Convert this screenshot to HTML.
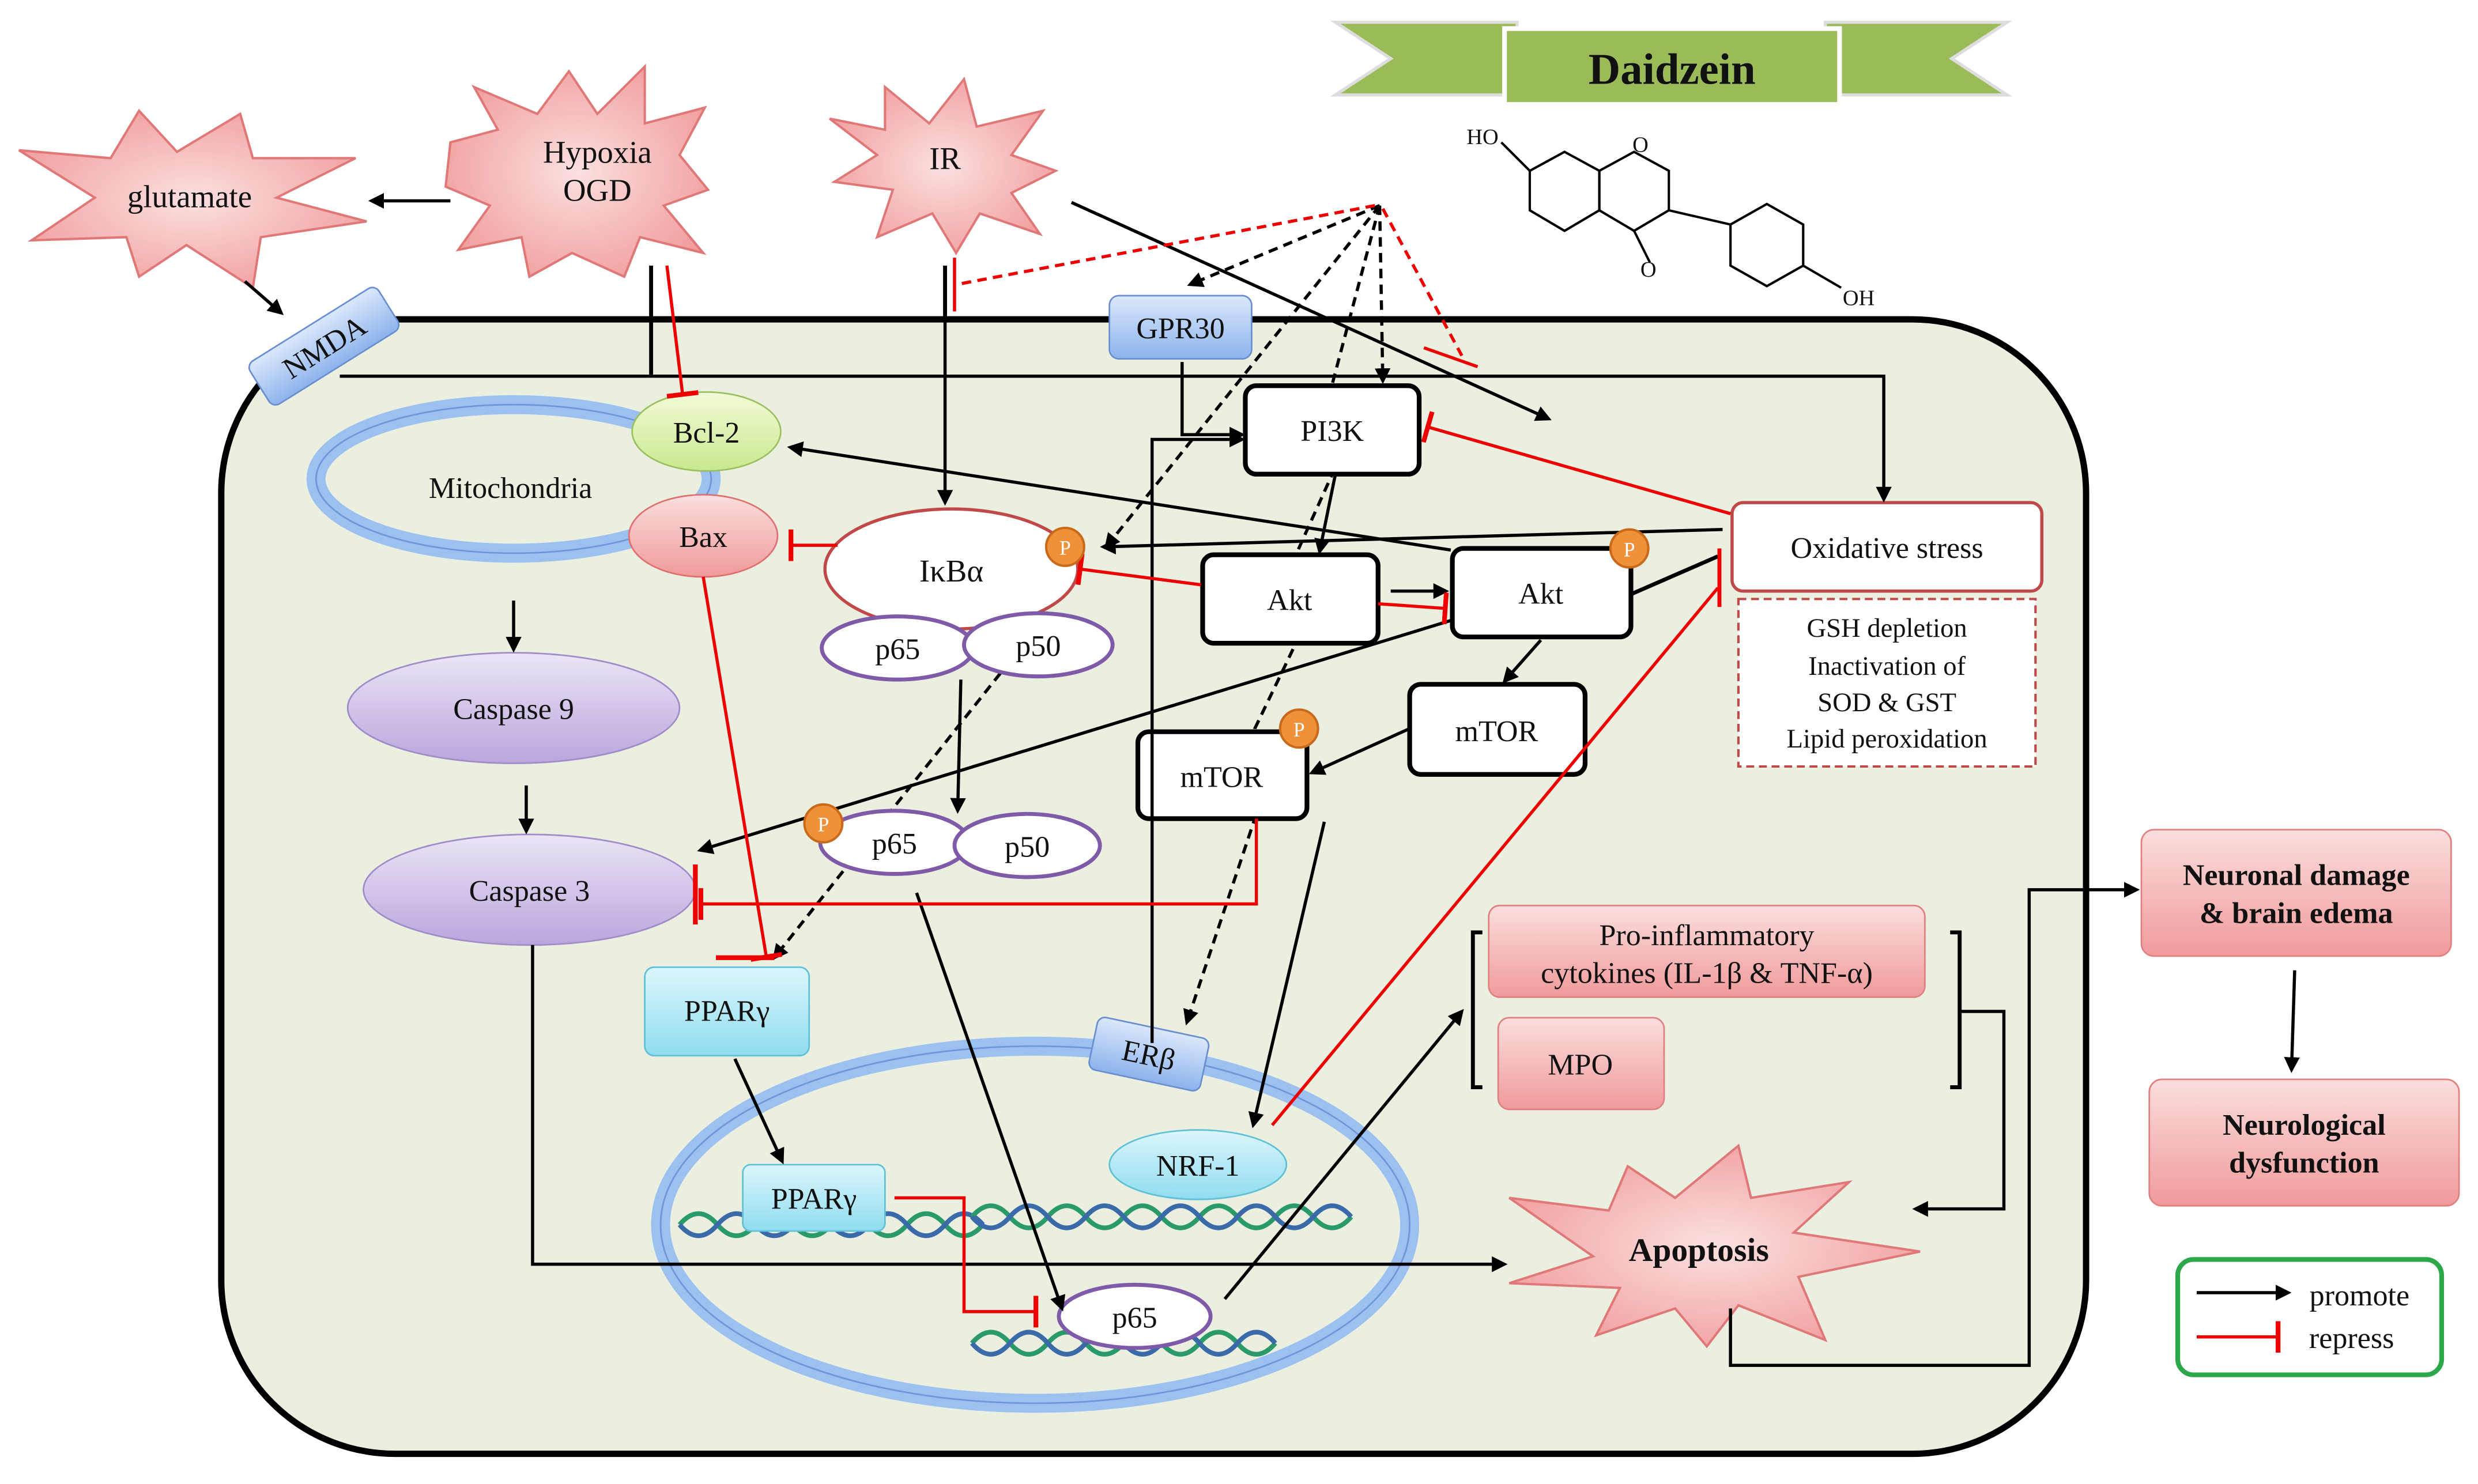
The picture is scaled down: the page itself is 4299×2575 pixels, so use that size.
<!DOCTYPE html>
<html><head><meta charset="utf-8"><style>
html,body{margin:0;padding:0;background:#fff}
svg{display:block}
text{font-family:"Liberation Serif",serif;fill:#111}
</style></head><body>
<svg width="4299" height="2575" viewBox="0 0 1568 939" xmlns="http://www.w3.org/2000/svg">
<defs>
<marker id="ab" markerWidth="10" markerHeight="10" refX="8" refY="5" orient="auto" markerUnits="userSpaceOnUse"><path d="M0,0 L10,5 L0,10 z" fill="#000"/></marker>
<marker id="tr" markerWidth="4" markerHeight="20" refX="2" refY="10" orient="auto" markerUnits="userSpaceOnUse"><rect x="0" y="0" width="3" height="20" fill="#e00"/></marker>
<radialGradient id="star" cx="50%" cy="50%" r="60%"><stop offset="0" stop-color="#fbe0e0"/><stop offset="1" stop-color="#f19a9a"/></radialGradient>
<linearGradient id="pink" x1="0" y1="0" x2="0" y2="1"><stop offset="0" stop-color="#fbdede"/><stop offset="1" stop-color="#f09a9a"/></linearGradient>
<linearGradient id="purp" x1="0" y1="0" x2="0" y2="1"><stop offset="0" stop-color="#ece4f6"/><stop offset="1" stop-color="#b9a6dc"/></linearGradient>
<linearGradient id="cyan" x1="0" y1="0" x2="0" y2="1"><stop offset="0" stop-color="#dcf6fc"/><stop offset="1" stop-color="#8fdcef"/></linearGradient>
<linearGradient id="blu" x1="0" y1="0" x2="0" y2="1"><stop offset="0" stop-color="#dbe8fb"/><stop offset="1" stop-color="#8cb3ec"/></linearGradient>
<linearGradient id="grn" x1="0" y1="0" x2="0" y2="1"><stop offset="0" stop-color="#f2fbd8"/><stop offset="1" stop-color="#c9e88e"/></linearGradient>
</defs>

<rect x="140" y="202" width="1180" height="718" rx="110" fill="#ebefe0" stroke="#000" stroke-width="4"/>

<polygon points="845,14 960,14 960,60 845,60 880,37" fill="#9bbb59" stroke="#ddd" stroke-width="2"/>
<polygon points="1155,14 1270,14 1235,37 1270,60 1155,60" fill="#9bbb59" stroke="#ddd" stroke-width="2"/>
<rect x="952" y="18" width="212" height="48" fill="#9bbb59" stroke="#fff" stroke-width="3"/>
<text x="1058" y="53" font-size="28" font-weight="bold" text-anchor="middle">Daidzein</text>
<g stroke="#000" stroke-width="1.5" fill="none">
<polygon points="968,108 990,96 1012,108 1012,133 990,146 968,133"/>
<polygon points="1012,108 1034,96 1056,108 1056,133 1034,146 1012,133"/>
<polygon points="1095,142 1118,129 1141,142 1141,168 1118,181 1095,168"/>
<line x1="1056" y1="133" x2="1095" y2="142"/><line x1="1034" y1="146" x2="1044" y2="166"/>
<line x1="968" y1="108" x2="950" y2="90"/><line x1="1141" y1="168" x2="1165" y2="182"/>
</g>
<text x="928" y="91" font-size="14">HO</text><text x="1033" y="96" font-size="14">O</text>
<text x="1038" y="175" font-size="14">O</text><text x="1166" y="193" font-size="14">OH</text>

<g fill="url(#star)" stroke="#e07878" stroke-width="1.5">
<polygon points="12,95 70,100 88,70 112,96 152,72 160,100 225,100 175,125 232,140 165,150 160,182 118,155 88,175 80,150 20,152 60,125"/>
<polygon points="285,90 315,82 300,55 340,72 360,45 378,72 408,42 408,78 446,68 430,98 448,120 420,130 445,160 405,150 395,175 362,160 335,175 330,150 290,158 310,130 282,118"/>
<polygon points="525,75 560,82 560,55 588,78 610,50 618,80 660,70 640,98 668,108 640,122 658,148 620,135 605,160 590,135 555,150 565,120 528,115 555,98"/>
<polygon points="955,758 1018,766 1030,738 1060,758 1100,725 1108,758 1170,748 1135,780 1215,792 1138,808 1155,848 1100,826 1080,852 1060,828 1010,845 1025,815 955,812 1008,795"/>
</g>
<text x="120" y="131" font-size="20" text-anchor="middle">glutamate</text>
<text x="378" y="103" font-size="20" text-anchor="middle">Hypoxia</text>
<text x="378" y="127" font-size="20" text-anchor="middle">OGD</text>
<text x="598" y="107" font-size="20" text-anchor="middle">IR</text>
<text x="1075" y="798" font-size="21" font-weight="bold" text-anchor="middle">Apoptosis</text>

<g transform="translate(205,219) rotate(-32)"><rect x="-48" y="-16" width="96" height="32" rx="5" fill="url(#blu)" stroke="#6a8fd0"/><text x="0" y="7" font-size="19" text-anchor="middle">NMDA</text></g>

<!-- dashed black (drawn under boxes) -->
<g stroke="#000" stroke-width="2" stroke-dasharray="6,4" fill="none" marker-end="url(#ab)">
<line x1="873" y1="130" x2="753" y2="180"/>
<line x1="873" y1="130" x2="875" y2="241"/>
<line x1="873" y1="130" x2="700" y2="346"/>
<line x1="633" y1="426" x2="490" y2="606"/>
<polyline points="873,130 843,243 843,300 820,351 820,407 794,461 794,518 751,647"/>
</g>

<ellipse cx="325" cy="303" rx="125" ry="47" fill="none" stroke="#9cc0ef" stroke-width="12"/>
<ellipse cx="325" cy="303" rx="125" ry="47" fill="none" stroke="#6d97d8" stroke-width="1"/>
<text x="323" y="315" font-size="19" text-anchor="middle">Mitochondria</text>
<ellipse cx="447" cy="273" rx="47" ry="25" fill="url(#grn)" stroke="#9ac060"/><text x="447" y="280" font-size="19" text-anchor="middle">Bcl-2</text>
<ellipse cx="445" cy="339" rx="47" ry="26" fill="url(#pink)" stroke="#e07070"/><text x="445" y="346" font-size="19" text-anchor="middle">Bax</text>
<ellipse cx="325" cy="448" rx="105" ry="35" fill="url(#purp)" stroke="#a08cc8"/><text x="325" y="455" font-size="19" text-anchor="middle">Caspase 9</text>
<ellipse cx="335" cy="563" rx="105" ry="35" fill="url(#purp)" stroke="#a08cc8"/><text x="335" y="570" font-size="19" text-anchor="middle">Caspase 3</text>

<ellipse cx="602" cy="360" rx="80" ry="38" fill="#fff" stroke="#c04848" stroke-width="2"/><text x="602" y="368" font-size="20" text-anchor="middle">IκBα</text>
<ellipse cx="568" cy="410" rx="48" ry="20" fill="#fff" stroke="#7e5aa8" stroke-width="2.5"/><text x="568" y="417" font-size="19" text-anchor="middle">p65</text>
<ellipse cx="657" cy="408" rx="47" ry="20" fill="#fff" stroke="#7e5aa8" stroke-width="2.5"/><text x="657" y="415" font-size="19" text-anchor="middle">p50</text>
<ellipse cx="566" cy="533" rx="47" ry="20" fill="#fff" stroke="#7e5aa8" stroke-width="2.5"/><text x="566" y="540" font-size="19" text-anchor="middle">p65</text>
<ellipse cx="650" cy="535" rx="46" ry="20" fill="#fff" stroke="#7e5aa8" stroke-width="2.5"/><text x="650" y="542" font-size="19" text-anchor="middle">p50</text>

<rect x="408" y="612" width="104" height="56" rx="6" fill="url(#cyan)" stroke="#60c0d8"/><text x="460" y="646" font-size="19" text-anchor="middle">PPARγ</text>

<ellipse cx="655" cy="775" rx="237" ry="113" fill="none" stroke="#9cc0ef" stroke-width="12"/>
<ellipse cx="655" cy="775" rx="237" ry="113" fill="none" stroke="#6d97d8" stroke-width="1"/>
<g transform="translate(727,667) rotate(12)"><rect x="-36" y="-17" width="72" height="34" rx="5" fill="url(#blu)" stroke="#6a8fd0"/><text x="0" y="7" font-size="19" text-anchor="middle">ERβ</text></g>
<g fill="none" stroke-width="3">
<path d="M430,775 q12,-14 24,0 t24,0 t24,0 t24,0 t24,0 t24,0 t24,0 t24,0" stroke="#2a9a6a"/>
<path d="M430,775 q12,14 24,0 t24,0 t24,0 t24,0 t24,0 t24,0 t24,0 t24,0" stroke="#3a6aa8"/>
<path d="M615,770 q12,-14 24,0 t24,0 t24,0 t24,0 t24,0 t24,0 t24,0 t24,0 t24,0 t24,0" stroke="#2a9a6a"/>
<path d="M615,770 q12,14 24,0 t24,0 t24,0 t24,0 t24,0 t24,0 t24,0 t24,0 t24,0 t24,0" stroke="#3a6aa8"/>
<path d="M615,850 q12,-14 24,0 t24,0 t24,0 t24,0 t24,0 t24,0 t24,0 t24,0" stroke="#2a9a6a"/>
<path d="M615,850 q12,14 24,0 t24,0 t24,0 t24,0 t24,0 t24,0 t24,0 t24,0" stroke="#3a6aa8"/>
</g>
<rect x="470" y="737" width="90" height="42" rx="5" fill="url(#cyan)" stroke="#60c0d8"/><text x="515" y="765" font-size="19" text-anchor="middle">PPARγ</text>
<ellipse cx="758" cy="737" rx="56" ry="22" fill="url(#cyan)" stroke="#60c0d8"/><text x="758" y="744" font-size="19" text-anchor="middle">NRF-1</text>
<ellipse cx="718" cy="833" rx="48" ry="20" fill="#fff" stroke="#7e5aa8" stroke-width="2.5"/><text x="718" y="840" font-size="19" text-anchor="middle">p65</text>

<rect x="702" y="187" width="90" height="40" rx="6" fill="url(#blu)" stroke="#6a8fd0"/><text x="747" y="214" font-size="19" text-anchor="middle">GPR30</text>
<g fill="#fff" stroke="#000" stroke-width="3">
<rect x="788" y="244" width="110" height="56" rx="7"/>
<rect x="761" y="351" width="111" height="56" rx="7"/>
<rect x="919" y="347" width="113" height="56" rx="7"/>
<rect x="892" y="433" width="111" height="57" rx="7"/>
<rect x="720" y="463" width="107" height="55" rx="7"/>
</g>
<text x="843" y="279" font-size="19" text-anchor="middle">PI3K</text>
<text x="816" y="386" font-size="19" text-anchor="middle">Akt</text>
<text x="975" y="382" font-size="19" text-anchor="middle">Akt</text>
<text x="947" y="469" font-size="19" text-anchor="middle">mTOR</text>
<text x="773" y="498" font-size="19" text-anchor="middle">mTOR</text>

<rect x="1096" y="318" width="196" height="56" rx="7" fill="#fff" stroke="#c04848" stroke-width="2"/><text x="1194" y="353" font-size="19" text-anchor="middle">Oxidative stress</text>
<rect x="1100" y="379" width="188" height="106" fill="#fff" stroke="#c04848" stroke-width="1.5" stroke-dasharray="5,3"/>
<g font-size="17" text-anchor="middle"><text x="1194" y="403">GSH depletion</text><text x="1194" y="427">Inactivation of</text><text x="1194" y="450">SOD &amp; GST</text><text x="1194" y="473">Lipid peroxidation</text></g>

<rect x="942" y="573" width="276" height="58" rx="7" fill="url(#pink)" stroke="#e08080"/>
<text x="1080" y="598" font-size="19" text-anchor="middle">Pro-inflammatory</text><text x="1080" y="622" font-size="19" text-anchor="middle">cytokines (IL-1β &amp; TNF-α)</text>
<rect x="948" y="644" width="105" height="58" rx="7" fill="url(#pink)" stroke="#e08080"/><text x="1000" y="680" font-size="19" text-anchor="middle">MPO</text>
<path d="M938,590 h-6 v98 h6 M1234,590 h6 v98 h-6" fill="none" stroke="#000" stroke-width="2.5"/>

<rect x="1355" y="525" width="196" height="80" rx="8" fill="url(#pink)" stroke="#e08080"/>
<text x="1453" y="560" font-size="19" font-weight="bold" text-anchor="middle">Neuronal damage</text><text x="1453" y="584" font-size="19" font-weight="bold" text-anchor="middle">&amp; brain edema</text>
<rect x="1360" y="683" width="196" height="80" rx="8" fill="url(#pink)" stroke="#e08080"/>
<text x="1458" y="718" font-size="19" font-weight="bold" text-anchor="middle">Neurological</text><text x="1458" y="742" font-size="19" font-weight="bold" text-anchor="middle">dysfunction</text>
<rect x="1378" y="797" width="167" height="73" rx="10" fill="#fff" stroke="#2aa84a" stroke-width="3"/>
<line x1="1390" y1="818" x2="1448" y2="818" stroke="#000" stroke-width="2" marker-end="url(#ab)"/>
<line x1="1390" y1="846" x2="1442" y2="846" stroke="#e00" stroke-width="2" marker-end="url(#tr)"/>
<text x="1493" y="826" font-size="19" text-anchor="middle">promote</text><text x="1488" y="853" font-size="19" text-anchor="middle">repress</text>

<g stroke="#000" stroke-width="2" fill="none" marker-end="url(#ab)">
<line x1="285" y1="127" x2="235" y2="127"/>
<line x1="155" y1="178" x2="178" y2="198"/>
<polyline points="215,238 1192,238 1192,316"/>
<line x1="678" y1="128" x2="980" y2="265"/>
<line x1="598" y1="200" x2="598" y2="318"/>
<polyline points="748,229 748,275 786,275"/>
<polyline points="729,660 729,278 786,278"/>
<line x1="918" y1="348" x2="500" y2="283"/>
<line x1="1090" y1="335" x2="698" y2="346"/>
<line x1="880" y1="374" x2="915" y2="374"/>
<line x1="845" y1="300" x2="835" y2="349"/>
<line x1="975" y1="405" x2="952" y2="431"/>
<line x1="892" y1="461" x2="830" y2="489"/>
<line x1="920" y1="392" x2="443" y2="538"/>
<line x1="838" y1="520" x2="793" y2="712"/>
<line x1="608" y1="430" x2="606" y2="513"/>
<line x1="325" y1="380" x2="325" y2="411"/>
<line x1="333" y1="497" x2="333" y2="526"/>
<polyline points="337,598 337,800 952,800"/>
<line x1="465" y1="670" x2="495" y2="735"/>
<line x1="580" y1="565" x2="672" y2="828"/>
<line x1="775" y1="822" x2="925" y2="640"/>
<polyline points="1240,640 1268,640 1268,765 1212,765"/>
<polyline points="1095,828 1095,864 1284,864 1284,563 1352,563"/>
<line x1="1452" y1="614" x2="1450" y2="677"/>
</g>
<g stroke="#000" stroke-width="2.5"><line x1="412" y1="168" x2="412" y2="238"/><line x1="598" y1="168" x2="598" y2="200"/><line x1="1087" y1="352" x2="1032" y2="376"/></g>

<g stroke="#e00" stroke-width="2" stroke-dasharray="6,4" fill="none">
<polyline points="870,130 605,180"/>
<polyline points="875,132 925,225"/>
</g>
<line x1="604" y1="163" x2="604" y2="197" stroke="#e00" stroke-width="2"/>
<line x1="901" y1="220" x2="935" y2="232" stroke="#e00" stroke-width="2"/>

<g stroke="#e00" stroke-width="2" fill="none" marker-end="url(#tr)">
<line x1="422" y1="168" x2="432" y2="250"/>
<line x1="530" y1="345" x2="500" y2="345"/>
<line x1="760" y1="370" x2="683" y2="360"/>
<line x1="872" y1="382" x2="915" y2="385"/>
<line x1="1095" y1="325" x2="903" y2="270"/>
<line x1="445" y1="365" x2="485" y2="606"/>
<polyline points="795,518 795,572 443,572"/>
<polyline points="566,758 610,758 610,830 656,830"/>
</g>
<line x1="805" y1="712" x2="1087" y2="372" stroke="#e00" stroke-width="2"/>
<line x1="1088" y1="347" x2="1088" y2="384" stroke="#e00" stroke-width="2.5"/>
<line x1="440" y1="547" x2="440" y2="585" stroke="#e00" stroke-width="3"/>
<line x1="453" y1="606" x2="490" y2="606" stroke="#e00" stroke-width="3"/>

<g fill="#f0913a" stroke="#c96a1a" stroke-width="1.5">
<circle cx="674" cy="346" r="12"/><circle cx="1031" cy="347" r="12"/><circle cx="822" cy="461" r="12"/><circle cx="521" cy="521" r="12"/>
</g>
<g font-size="13" text-anchor="middle"><text x="674" y="351" style="fill:#fff">P</text><text x="1031" y="352" style="fill:#fff">P</text><text x="822" y="466" style="fill:#fff">P</text><text x="521" y="526" style="fill:#fff">P</text></g>
</svg>
</body></html>
